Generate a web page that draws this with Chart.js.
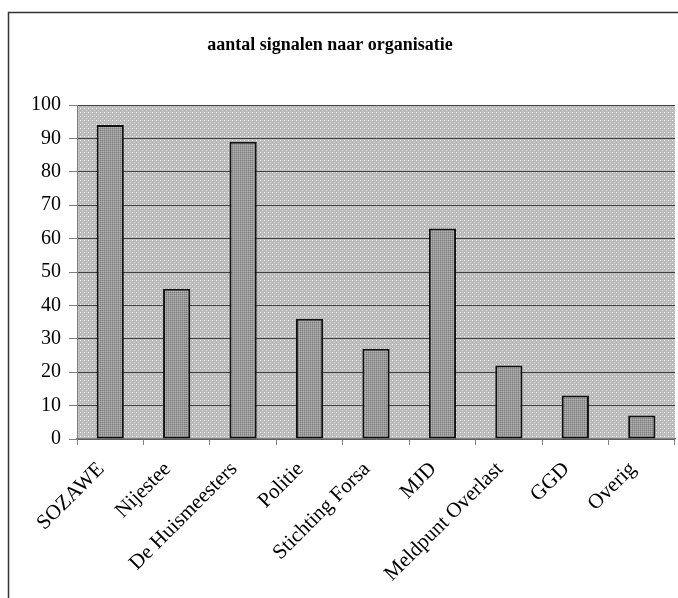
<!DOCTYPE html>
<html>
<head>
<meta charset="utf-8">
<script src="https://cdn.jsdelivr.net/npm/chart.js@4"></script>
<style>
  html, body { margin: 0; padding: 0; background: #fff; }
  #wrap { width: 678px; height: 598px; }
</style>
</head>
<body>
<div id="wrap"><canvas id="chart" width="678" height="598"></canvas></div>
<script>
const TITLE = 'aantal signalen naar organisatie';
const organisaties = ['SOZAWE', 'Nijestee', 'De Huismeesters', 'Politie', 'Stichting Forsa', 'MJD', 'Meldpunt Overlast', 'GGD', 'Overig'];
const signalen = [94, 45, 89, 36, 27, 63, 22, 13, 7];
const yTicks = [0, 10, 20, 30, 40, 50, 60, 70, 80, 90, 100];

const SERIF = '"Liberation Serif", "Times New Roman", serif';

// small tiled patterns to mimic the old stippled fills
function makePattern(size, base, dots) {
  const c = document.createElement('canvas');
  c.width = size; c.height = size;
  const g = c.getContext('2d');
  g.fillStyle = base;
  g.fillRect(0, 0, size, size);
  dots.forEach(d => { g.fillStyle = d[2]; g.fillRect(d[0], d[1], 1, 1); });
  return g.createPattern(c, 'repeat');
}

const ctx0 = document.getElementById('chart').getContext('2d');
const plotFill = makePattern(4, '#bababa', [[0, 0, '#ffffff'], [2, 2, '#d8d8d8'], [2, 0, '#c8c8c8']]);
const barFill = makePattern(2, '#9a9a9a', [[0, 0, '#7c7c7c'], [1, 1, '#b2b2b2']]);

const framePlugin = {
  id: 'frame',
  beforeDraw(chart) {
    const { ctx, chartArea: a } = chart;
    ctx.save();
    ctx.fillStyle = plotFill;
    ctx.fillRect(a.left, a.top, a.right - a.left, a.bottom - a.top);
    ctx.strokeStyle = '#333';
    ctx.lineWidth = 1.5;
    ctx.beginPath();
    ctx.moveTo(8.5, 598);
    ctx.lineTo(8.5, 12.5);
    ctx.lineTo(678, 12.5);
    ctx.stroke();
    ctx.fillStyle = '#000';
    ctx.font = 'bold 18px ' + SERIF;
    ctx.textAlign = 'center';
    ctx.textBaseline = 'middle';
    ctx.fillText(TITLE, 330, 45);
    ctx.restore();
  }
};

new Chart(ctx0, {
  type: 'bar',
  data: {
    labels: organisaties,
    datasets: [{
      data: signalen,
      backgroundColor: barFill,
      borderColor: '#111',
      borderWidth: 2,
      borderSkipped: false,
      barPercentage: 0.41,
      categoryPercentage: 1
    }]
  },
  options: {
    responsive: false,
    animation: false,
    layout: { padding: { top: 105, left: 8, right: 3, bottom: 0 } },
    plugins: { legend: { display: false }, tooltip: { enabled: false }, title: { display: false } },
    scales: {
      y: {
        min: 0, max: 100,
        afterFit: s => { s.width = 69; },
        afterBuildTicks: s => { s.ticks = yTicks.map(v => ({ value: v })); },
        border: { color: '#808080', width: 1 },
        grid: { color: '#404040', lineWidth: 1, tickLength: 8, tickColor: '#808080' },
        ticks: { color: '#000', padding: 8, font: { family: SERIF, size: 20 } }
      },
      x: {
        afterFit: s => { s.height = 159; },
        border: { color: '#808080', width: 1.5 },
        grid: { offset: true, drawOnChartArea: false, tickLength: 6, color: '#808080' },
        ticks: { color: '#000', padding: 12, labelOffset: -9, maxRotation: 45, minRotation: 45, autoSkip: false, font: { family: SERIF, size: 21 } }
      }
    }
  },
  plugins: [framePlugin]
});
</script>
</body>
</html>
